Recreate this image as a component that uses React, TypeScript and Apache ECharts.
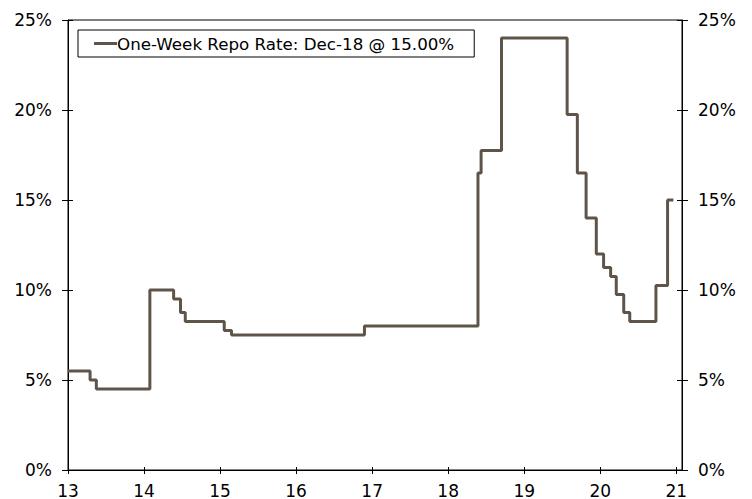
import React, { useEffect, useRef } from "react";
import * as echarts from "echarts";

const seriesName = "One-Week Repo Rate: Dec-18 @ 15.00%";

const changeDates = [
  "2013-01-01", "2013-04-17", "2013-05-17", "2014-01-29", "2014-05-23",
  "2014-06-25", "2014-07-18", "2015-01-21", "2015-02-25", "2016-11-25",
  "2018-05-24", "2018-06-08", "2018-09-14", "2019-07-26", "2019-09-13",
  "2019-10-25", "2019-12-13", "2020-01-17", "2020-02-20", "2020-03-18",
  "2020-04-23", "2020-05-22", "2020-09-25", "2020-11-20", "2020-12-18",
];

const repoRates = [
  5.5, 5.0, 4.5, 10.0, 9.5,
  8.75, 8.25, 7.75, 7.5, 8.0,
  16.5, 17.75, 24.0, 19.75, 16.5,
  14.0, 12.0, 11.25, 10.75, 9.75,
  8.75, 8.25, 10.25, 15.0, 15.0,
];

const yearTicks = [2013, 2014, 2015, 2016, 2017, 2018, 2019, 2020, 2021];
const xMin = 2013;
const xMax = 2021.075;
const yMin = 0;
const yMax = 25;
const yStep = 5;

const toYear = (d: string): number => {
  const [y, m, dd] = d.split("-").map(Number);
  const t = Date.UTC(y, m - 1, dd);
  const s = Date.UTC(y, 0, 1);
  const e = Date.UTC(y + 1, 0, 1);
  return y + (t - s) / (e - s);
};

const FONT = "DejaVu Sans";
const FS = 17;
const LEGEND_FS = 16.7;
const LINE_COLOR = "#5f5449";

export default function App() {
  const ref = useRef<HTMLDivElement>(null);

  useEffect(() => {
    if (!ref.current) return;
    const chart = echarts.init(ref.current, null, { renderer: "svg" });

    const axisLine = { show: true, lineStyle: { color: "#000", width: 1 } };
    const tickStyle = { color: "#000", width: 1 };

    const option: any = {
      animation: false,
      backgroundColor: "#fff",
      textStyle: { fontFamily: FONT },
      grid: {
        left: 68,
        right: 70,
        top: 20,
        bottom: 27,
        show: true,
        borderColor: "#000",
        borderWidth: 1,
        backgroundColor: "transparent",
      },
      legend: {
        show: true,
        left: 78,
        top: 30,
        orient: "horizontal",
        padding: [5, 20, 5, 16],
        borderColor: "#000",
        borderWidth: 1,
        backgroundColor: "#fff",
        itemWidth: 23,
        itemHeight: 3,
        icon: "rect",
        textStyle: {
          fontFamily: FONT,
          fontSize: LEGEND_FS,
          color: "#000",
          padding: [0, 0, 0, -5],
        },
        data: [{ name: seriesName, icon: "rect", itemStyle: { color: LINE_COLOR } }],
      },
      xAxis: [
        {
          type: "value",
          position: "bottom",
          min: xMin,
          max: xMax,
          splitLine: { show: false },
          axisLine,
          axisTick: { show: true, inside: false, length: 4, customValues: yearTicks, lineStyle: tickStyle },
          axisLabel: {
            show: true,
            customValues: yearTicks,
            margin: 12,
            fontFamily: FONT,
            fontSize: FS,
            color: "#000",
            formatter: (v: number) => String(Math.round(v) - 2000),
          },
        },
        {
          type: "value",
          position: "bottom",
          min: xMin,
          max: xMax,
          splitLine: { show: false },
          axisLine: { show: false },
          axisLabel: { show: false },
          axisTick: { show: true, inside: true, length: 3, customValues: yearTicks, lineStyle: tickStyle },
        },
      ],
      yAxis: [
        {
          type: "value",
          position: "left",
          min: yMin,
          max: yMax,
          interval: yStep,
          splitLine: { show: false },
          axisLine,
          axisTick: { show: true, inside: false, length: 6, lineStyle: tickStyle },
          axisLabel: {
            show: true,
            margin: 16,
            fontFamily: FONT,
            fontSize: FS,
            color: "#000",
            formatter: "{value}%",
          },
        },
        {
          type: "value",
          position: "left",
          min: yMin,
          max: yMax,
          interval: yStep,
          splitLine: { show: false },
          axisLine: { show: false },
          axisLabel: { show: false },
          axisTick: { show: true, inside: true, length: 5, lineStyle: tickStyle },
        },
        {
          type: "value",
          position: "right",
          min: yMin,
          max: yMax,
          interval: yStep,
          splitLine: { show: false },
          axisLine,
          axisTick: { show: true, inside: false, length: 6, lineStyle: tickStyle },
          axisLabel: {
            show: true,
            margin: 16,
            fontFamily: FONT,
            fontSize: FS,
            color: "#000",
            formatter: "{value}%",
          },
        },
        {
          type: "value",
          position: "right",
          min: yMin,
          max: yMax,
          interval: yStep,
          splitLine: { show: false },
          axisLine: { show: false },
          axisLabel: { show: false },
          axisTick: { show: true, inside: true, length: 5, lineStyle: tickStyle },
        },
      ],
      series: [
        {
          name: seriesName,
          type: "line",
          xAxisIndex: 0,
          yAxisIndex: 0,
          step: "end",
          symbol: "none",
          showSymbol: false,
          color: LINE_COLOR,
          lineStyle: { color: LINE_COLOR, width: 3 },
          data: changeDates.map((d, i) => [toYear(d), repoRates[i]]),
        },
      ],
    };

    chart.setOption(option);
    return () => {
      chart.dispose();
    };
  }, []);

  return (
    <div
      ref={ref}
      style={{ position: "absolute", left: 0, top: 0, width: 752, height: 499 }}
    />
  );
}
